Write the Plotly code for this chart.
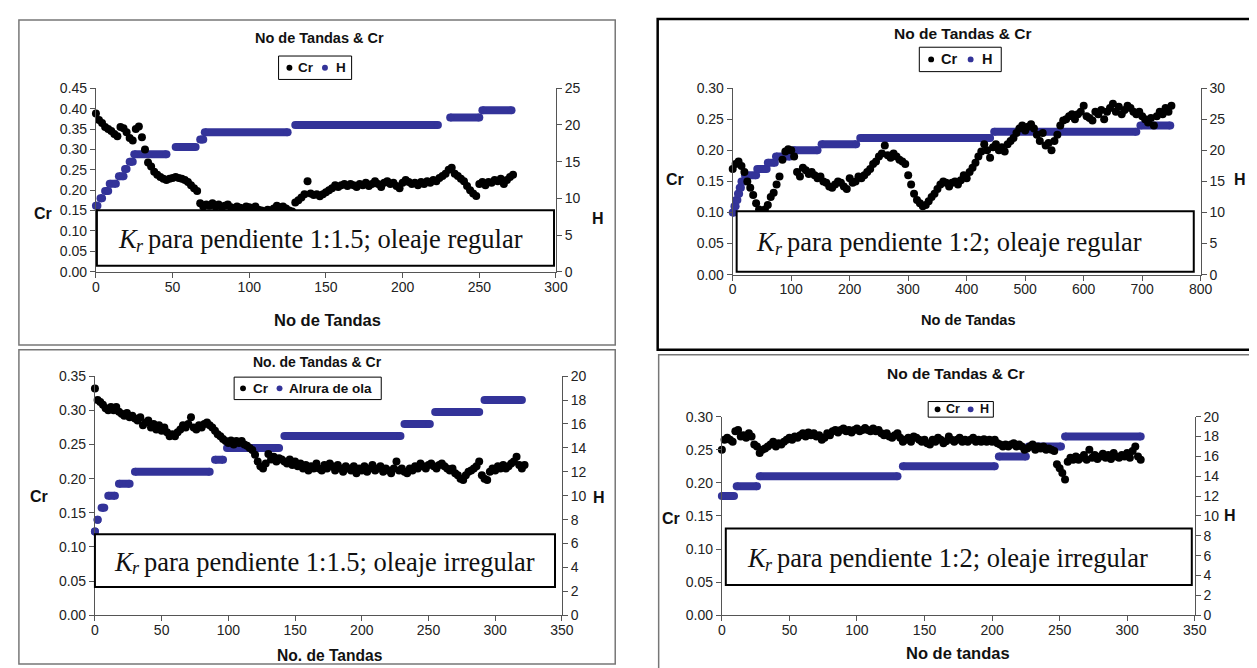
import plotly.graph_objects as go

# ---------------------------------------------------------------- data
SERIES_P1 = ["Cr", "H"]
SERIES_P2 = ["Cr", "H"]
SERIES_P3 = ["Cr", "Alrura de ola"]
SERIES_P4 = ["Cr", "H"]

TITLE_P1 = "No de Tandas & Cr"
TITLE_P2 = "No de Tandas & Cr"
TITLE_P3 = "No. de Tandas & Cr"
TITLE_P4 = "No de Tandas & Cr"

XTITLE_P1 = "No de Tandas"
XTITLE_P2 = "No de Tandas"
XTITLE_P3 = "No. de Tandas"
XTITLE_P4 = "No de tandas"

# box label = symbol K, subscript r, then the description
LABEL_SYMBOL = ("K", "r")
LABEL_P1 = "para pendiente 1:1.5; oleaje regular"
LABEL_P2 = "para pendiente 1:2; oleaje regular"
LABEL_P3 = "para pendiente 1:1.5; oleaje irregular"
LABEL_P4 = "para pendiente 1:2; oleaje irregular"

# Panel 1: regular waves, slope 1:1.5 (tandas 0..272, every 2nd)
TANDAS_P1 = list(range(0, 273, 2))
CR_P1 = [
    0.388, 0.372, 0.365, 0.355, 0.350, 0.345, 0.338, 0.332, 0.355, 0.352,
    0.342, 0.328, 0.322, 0.350, 0.356, 0.330, 0.300, 0.268, 0.258, 0.245,
    0.238, 0.232, 0.228, 0.225, 0.228, 0.230, 0.232, 0.230, 0.228, 0.225,
    0.220, 0.212, 0.205, 0.198, 0.168, 0.160, 0.165, 0.162, 0.168, 0.160,
    0.165, 0.158, 0.162, 0.165, 0.158, 0.155, 0.160, 0.157, 0.155, 0.160,
    0.158, 0.155, 0.160, 0.152, 0.150, 0.148, 0.152, 0.150, 0.155, 0.162,
    0.158, 0.160, 0.155, 0.150, 0.148, 0.170, 0.175, 0.182, 0.190, 0.222,
    0.192, 0.188, 0.190, 0.185, 0.190, 0.195, 0.200, 0.205, 0.212, 0.208,
    0.212, 0.215, 0.210, 0.215, 0.212, 0.208, 0.215, 0.212, 0.218, 0.210,
    0.215, 0.222, 0.215, 0.208, 0.218, 0.222, 0.215, 0.218, 0.210, 0.205,
    0.218, 0.225, 0.220, 0.215, 0.218, 0.212, 0.220, 0.215, 0.222, 0.218,
    0.225, 0.222, 0.230, 0.235, 0.240, 0.250, 0.255, 0.240, 0.235, 0.228,
    0.222, 0.210, 0.200, 0.192, 0.186, 0.215, 0.220, 0.212, 0.220, 0.218,
    0.225, 0.222, 0.228, 0.215, 0.225, 0.232, 0.238,
]
H_P1_START = [0, 3, 6, 9, 15, 19, 22, 25, 52, 68, 71, 130, 231, 252]
H_P1_END = [1, 4, 8, 13, 18, 20, 24, 46, 65, 70, 125, 223, 250, 271]
H_P1_VAL = [9, 10, 11, 12, 13, 14, 15, 16, 17, 18, 19, 20, 21, 22]

# Panel 2: regular waves, slope 1:2 (tandas 0..750, every 5th)
TANDAS_P2 = list(range(0, 751, 5))
CR_P2 = [
    0.170, 0.178, 0.182, 0.175, 0.165, 0.150, 0.140, 0.128, 0.115, 0.105,
    0.098, 0.105, 0.112, 0.125, 0.132, 0.145, 0.158, 0.185, 0.198, 0.202,
    0.200, 0.190, 0.165, 0.158, 0.172, 0.168, 0.162, 0.165, 0.160, 0.155,
    0.158, 0.150, 0.148, 0.142, 0.140, 0.145, 0.150, 0.148, 0.142, 0.138,
    0.155, 0.148, 0.150, 0.158, 0.155, 0.160, 0.165, 0.170, 0.178, 0.182,
    0.190, 0.195, 0.208, 0.192, 0.188, 0.195, 0.190, 0.185, 0.182, 0.178,
    0.160, 0.145, 0.130, 0.120, 0.115, 0.110, 0.112, 0.118, 0.125, 0.130,
    0.138, 0.145, 0.150, 0.148, 0.142, 0.148, 0.150, 0.145, 0.152, 0.160,
    0.155, 0.165, 0.172, 0.180, 0.190, 0.198, 0.210, 0.200, 0.188, 0.205,
    0.210, 0.200, 0.205, 0.198, 0.210, 0.215, 0.220, 0.228, 0.235, 0.240,
    0.232, 0.238, 0.242, 0.235, 0.225, 0.215, 0.228, 0.208, 0.212, 0.200,
    0.215, 0.225, 0.240, 0.248, 0.250, 0.255, 0.258, 0.250, 0.258, 0.262,
    0.272, 0.255, 0.252, 0.248, 0.262, 0.258, 0.265, 0.250, 0.262, 0.268,
    0.275, 0.262, 0.270, 0.258, 0.265, 0.272, 0.268, 0.262, 0.258, 0.262,
    0.255, 0.250, 0.245, 0.252, 0.240, 0.255, 0.262, 0.258, 0.268, 0.262,
    0.272,
]
H_P2_START = [0, 3, 6, 9, 12, 15, 21, 42, 60, 74, 104, 152, 218, 447, 697]
H_P2_END = [2, 5, 8, 11, 14, 19, 40, 58, 72, 98, 145, 211, 440, 690, 748]
H_P2_VAL = [10, 11, 12, 13, 14, 15, 16, 17, 18, 19, 20, 21, 22, 23, 24]

# Panel 3: irregular waves, slope 1:1.5 (tandas 0..322, every 2nd)
TANDAS_P3 = list(range(0, 323, 2))
CR_P3 = [
    0.332, 0.315, 0.312, 0.308, 0.303, 0.300, 0.305, 0.300, 0.305, 0.298,
    0.295, 0.292, 0.296, 0.290, 0.292, 0.288, 0.285, 0.290, 0.278, 0.282,
    0.285, 0.275, 0.280, 0.272, 0.278, 0.270, 0.275, 0.268, 0.262, 0.265,
    0.262, 0.268, 0.272, 0.278, 0.275, 0.280, 0.290, 0.275, 0.272, 0.278,
    0.275, 0.280, 0.282, 0.278, 0.275, 0.270, 0.265, 0.262, 0.258, 0.255,
    0.252, 0.256, 0.250, 0.255, 0.252, 0.255, 0.250, 0.248, 0.245, 0.242,
    0.235, 0.225, 0.218, 0.215, 0.222, 0.236, 0.228, 0.232, 0.225, 0.230,
    0.228, 0.225, 0.222, 0.228, 0.220, 0.225, 0.218, 0.222, 0.215, 0.220,
    0.212, 0.218, 0.215, 0.222, 0.215, 0.212, 0.220, 0.215, 0.222, 0.218,
    0.212, 0.220, 0.215, 0.210, 0.218, 0.215, 0.212, 0.218, 0.208, 0.215,
    0.212, 0.218, 0.210, 0.215, 0.220, 0.212, 0.215, 0.218, 0.210, 0.215,
    0.212, 0.208, 0.215, 0.225, 0.212, 0.215, 0.210, 0.208, 0.215, 0.212,
    0.218, 0.215, 0.222, 0.218, 0.215, 0.220, 0.222, 0.218, 0.215, 0.220,
    0.222, 0.218, 0.215, 0.212, 0.215, 0.208, 0.205, 0.200, 0.198, 0.205,
    0.210, 0.212, 0.215, 0.218, 0.225, 0.205, 0.200, 0.198, 0.210, 0.215,
    0.212, 0.218, 0.215, 0.220, 0.215, 0.218, 0.222, 0.225, 0.232, 0.220,
    0.215, 0.220,
]
H_P3_START = [0, 2, 5, 10, 18, 30, 90, 99, 142, 232, 255, 292]
H_P3_END = [0, 2, 7, 15, 26, 86, 96, 138, 229, 251, 288, 320]
H_P3_VAL = [7, 8, 9, 10, 11, 12, 13, 14, 15, 16, 17, 18]

# Panel 4: irregular waves, slope 1:2 (tandas 0..310, every 2nd)
TANDAS_P4 = list(range(0, 311, 2))
CR_P4 = [
    0.250, 0.265, 0.268, 0.265, 0.262, 0.278, 0.280, 0.270, 0.272, 0.268,
    0.275, 0.270, 0.258, 0.255, 0.245, 0.250, 0.252, 0.255, 0.258, 0.262,
    0.255, 0.260, 0.258, 0.262, 0.265, 0.268, 0.265, 0.270, 0.268, 0.272,
    0.275, 0.270, 0.276, 0.272, 0.275, 0.270, 0.272, 0.265, 0.268, 0.275,
    0.272, 0.278, 0.280, 0.276, 0.280, 0.282, 0.278, 0.280, 0.276, 0.280,
    0.282, 0.278, 0.280, 0.283, 0.280, 0.278, 0.282, 0.278, 0.280, 0.275,
    0.272, 0.275, 0.270, 0.268, 0.272, 0.275, 0.268, 0.262, 0.265, 0.268,
    0.262, 0.270, 0.268, 0.265, 0.262, 0.265, 0.260, 0.258, 0.265, 0.262,
    0.268, 0.265, 0.260, 0.263, 0.270, 0.265, 0.262, 0.265, 0.268, 0.262,
    0.265, 0.262, 0.265, 0.268, 0.262, 0.265, 0.262, 0.266, 0.262, 0.265,
    0.262, 0.265, 0.260, 0.258, 0.255, 0.258, 0.255, 0.258, 0.260, 0.255,
    0.258, 0.255, 0.250, 0.252, 0.255, 0.258, 0.250, 0.255, 0.252, 0.255,
    0.250, 0.252, 0.250, 0.248, 0.228, 0.222, 0.215, 0.205, 0.232, 0.238,
    0.235, 0.240, 0.235, 0.238, 0.242, 0.235, 0.250, 0.238, 0.242, 0.236,
    0.240, 0.244, 0.238, 0.242, 0.236, 0.245, 0.240, 0.238, 0.242, 0.240,
    0.245, 0.238, 0.248, 0.255, 0.240, 0.235,
]
H_P4_START = [0, 11, 28, 134, 205, 227, 254]
H_P4_END = [9, 26, 130, 202, 225, 251, 310]
H_P4_VAL = [12, 13, 14, 15, 16, 17, 18]

# ---------------------------------------------------------------- styling
W, HGT = 1257, 668
CR_COLOR = "#000000"
H_COLOR = "#333399"
SANS = "Liberation Sans, Arial, sans-serif"
SERIF = "Liberation Serif, Times New Roman, serif"
AXIS_COLOR = "#555555"
LABEL_FS = 26.5
SUB_FS = 18


def fx(p):
    return p / W


def fy(p):
    return 1 - p / HGT


def seg_xy(starts, ends, vals):
    xs, ys = [], []
    for s, e, v in zip(starts, ends, vals):
        xs += [s, e, None]
        ys += [v, v, None]
    return xs, ys


panels = [
    dict(tandas=TANDAS_P1, cr=CR_P1, hs=H_P1_START, he=H_P1_END, hv=H_P1_VAL,
         names=SERIES_P1, title=TITLE_P1, xtitle=XTITLE_P1, label=LABEL_P1,
         plot=(85, 551, 74, 262), xmax=300, xdt=50, crmax=0.45, hmax=25, hdt=5,
         title_pos=(311, 23), title_fs=14.5,
         leg_box=(270, 344, 41, 65), leg_dots=(281, 317), leg_txt=(288, 326),
         leg_fs=13.5,
         cr_lab=(31, 202), h_lab=(594, 207), xt_pos=(320, 311), xt_fs=16.5,
         box=(86, 549, 199, 256), text_x=106,
         border=(7, 611, 4, 337), bcol="#777777", bw=1.5),
    dict(tandas=TANDAS_P2, cr=CR_P2, hs=H_P2_START, he=H_P2_END, hv=H_P2_VAL,
         names=SERIES_P2, title=TITLE_P2, xtitle=XTITLE_P2, label=LABEL_P2,
         plot=(730, 1204, 74, 265), xmax=800, xdt=100, crmax=0.30, hmax=30, hdt=5,
         title_pos=(963, 18), title_fs=15.5,
         leg_box=(919, 1002, 32, 57), leg_dots=(931, 971), leg_txt=(938.5, 980),
         leg_fs=14.5,
         cr_lab=(672, 167), h_lab=(1244, 168), xt_pos=(969, 311), xt_fs=14.6,
         box=(734, 1197, 200, 262), text_x=753,
         border=(654, 1256, 3, 342), bcol="#000000", bw=2.5),
    dict(tandas=TANDAS_P3, cr=CR_P3, hs=H_P3_START, he=H_P3_END, hv=H_P3_VAL,
         names=SERIES_P3, title=TITLE_P3, xtitle=XTITLE_P3, label=LABEL_P3,
         plot=(84, 557, 369, 614), xmax=350, xdt=50, crmax=0.35, hmax=20, hdt=2,
         title_pos=(309, 354), title_fs=14,
         leg_box=(225, 374, 370, 393), leg_dots=(234, 271), leg_txt=(242, 279),
         leg_fs=13.5,
         cr_lab=(27, 492), h_lab=(595, 493), xt_pos=(322, 655), xt_fs=15.6,
         box=(84, 550, 531, 585), text_x=102,
         border=(7, 611, 342, 664), bcol="#777777", bw=1.5),
    dict(tandas=TANDAS_P4, cr=CR_P4, hs=H_P4_START, he=H_P4_END, hv=H_P4_VAL,
         names=SERIES_P4, title=TITLE_P4, xtitle=XTITLE_P4, label=LABEL_P4,
         plot=(719, 1198, 410.5, 614), xmax=350, xdt=50, crmax=0.30, hmax=20, hdt=2,
         title_pos=(956, 366), title_fs=15.5,
         leg_box=(928, 994, 395, 411), leg_dots=(937.5, 971), leg_txt=(944.5, 978),
         leg_fs=12.5,
         cr_lab=(667, 515), h_lab=(1234, 512), xt_pos=(958, 653), xt_fs=16.5,
         box=(723, 1195, 525, 583), text_x=743,
         border=(655, 1254, 347, 672), bcol="#777777", bw=1.5),
]

fig = go.Figure()
layout = dict(
    width=W, height=HGT, autosize=False,
    margin=dict(l=0, r=0, t=0, b=0),
    paper_bgcolor="white", plot_bgcolor="white",
    showlegend=False,
    font=dict(family=SANS, color="#111111"),
)
shapes, annotations = [], []


def note(x, y, text, size, bold=True, xanchor="center", family=SANS,
         italic=False, pad=1):
    f = dict(family=family, size=size, color="#111111")
    if bold:
        f["weight"] = "bold"
    if italic:
        f["style"] = "italic"
    return dict(xref="paper", yref="paper", x=fx(x), y=fy(y), xanchor=xanchor,
                yanchor="middle", showarrow=False, text=text, font=f,
                borderpad=pad)


for i, p in enumerate(panels, start=1):
    hx_id = 2 * i - 1
    cy_id = 2 * i
    xref = "x" if i == 1 else f"x{i}"
    hy_ref = "y" if hx_id == 1 else f"y{hx_id}"
    cy_ref = f"y{cy_id}"
    x0, x1, yt, yb = p["plot"]

    hx, hy = seg_xy(p["hs"], p["he"], p["hv"])
    fig.add_trace(go.Scatter(
        x=hx, y=hy, xaxis=xref, yaxis=hy_ref, name=p["names"][1],
        mode="lines+markers", line=dict(color=H_COLOR, width=8),
        marker=dict(color=H_COLOR, size=8, line=dict(width=0)),
        cliponaxis=False, hoverinfo="x+y"))
    fig.add_trace(go.Scatter(
        x=p["tandas"], y=p["cr"], xaxis=xref, yaxis=cy_ref, name=p["names"][0],
        mode="markers", marker=dict(color=CR_COLOR, size=8, line=dict(width=0)),
        cliponaxis=False))

    tickfont = dict(family=SANS, size=14, color="#222222")
    common = dict(showline=True, linecolor=AXIS_COLOR, linewidth=1,
                  ticks="outside", ticklen=5, tickcolor=AXIS_COLOR,
                  showgrid=False, zeroline=False, tickfont=tickfont,
                  fixedrange=True)
    xname = "xaxis" if i == 1 else f"xaxis{i}"
    layout[xname] = dict(domain=[fx(x0), fx(x1)], range=[0, p["xmax"]],
                         tick0=0, dtick=p["xdt"], anchor=hy_ref,
                         ticklabelstandoff=-3, **common)
    hname = "yaxis" if hx_id == 1 else f"yaxis{hx_id}"
    layout[hname] = dict(domain=[fy(yb), fy(yt)], range=[0, p["hmax"]],
                         tick0=0, dtick=p["hdt"], side="right", anchor=xref,
                         **common)
    layout[f"yaxis{cy_id}"] = dict(range=[0, p["crmax"]], tick0=0, dtick=0.05,
                                   tickformat=".2f", side="left",
                                   overlaying=hy_ref, anchor=xref, **common)

    # panel border
    bx0, bx1, by0, by1 = p["border"]
    shapes.append(dict(type="rect", xref="paper", yref="paper",
                       x0=fx(bx0), x1=fx(bx1), y0=fy(by1), y1=fy(by0),
                       line=dict(color=p["bcol"], width=p["bw"]),
                       fillcolor="rgba(0,0,0,0)", layer="below"))
    # label box with K_r + description
    lx0, lx1, ly0, ly1 = p["box"]
    shapes.append(dict(type="rect", xref="paper", yref="paper",
                       x0=fx(lx0), x1=fx(lx1), y0=fy(ly1), y1=fy(ly0),
                       line=dict(color="black", width=2),
                       fillcolor="white", layer="above"))
    yc = (ly0 + ly1) / 2 + 1
    tx = p["text_x"]
    annotations.append(note(tx, yc, LABEL_SYMBOL[0], LABEL_FS, bold=False,
                            xanchor="left", family=SERIF, italic=True, pad=0))
    annotations.append(note(tx + 19, yc + 7, LABEL_SYMBOL[1], SUB_FS,
                            bold=False, xanchor="left", family=SERIF,
                            italic=True, pad=0))
    annotations.append(note(tx + 31, yc, p["label"], LABEL_FS, bold=False,
                            xanchor="left", family=SERIF, pad=0))
    # titles
    annotations.append(note(*p["title_pos"], p["title"], p["title_fs"]))
    annotations.append(note(*p["xt_pos"], p["xtitle"], p["xt_fs"]))
    annotations.append(note(*p["cr_lab"], p["names"][0], 16))
    annotations.append(note(*p["h_lab"], "H", 16))

    # legend: bordered box, coloured dots, series names
    gx0, gx1, gy0, gy1 = p["leg_box"]
    gyc = (gy0 + gy1) / 2
    shapes.append(dict(type="rect", xref="paper", yref="paper",
                       x0=fx(gx0), x1=fx(gx1), y0=fy(gy1), y1=fy(gy0),
                       line=dict(color="black", width=1),
                       fillcolor="white", layer="above"))
    for cx, col, name, lx in zip(p["leg_dots"], (CR_COLOR, H_COLOR),
                                 p["names"], p["leg_txt"]):
        shapes.append(dict(type="circle", xref="paper", yref="paper",
                           x0=fx(cx - 3), x1=fx(cx + 3),
                           y0=fy(gyc + 3), y1=fy(gyc - 3),
                           line=dict(width=0), fillcolor=col, layer="above"))
        annotations.append(note(lx, gyc, name, p["leg_fs"], xanchor="left"))

layout["shapes"] = shapes
layout["annotations"] = annotations
fig.update_layout(**layout)
fig.write_html("out.html")
